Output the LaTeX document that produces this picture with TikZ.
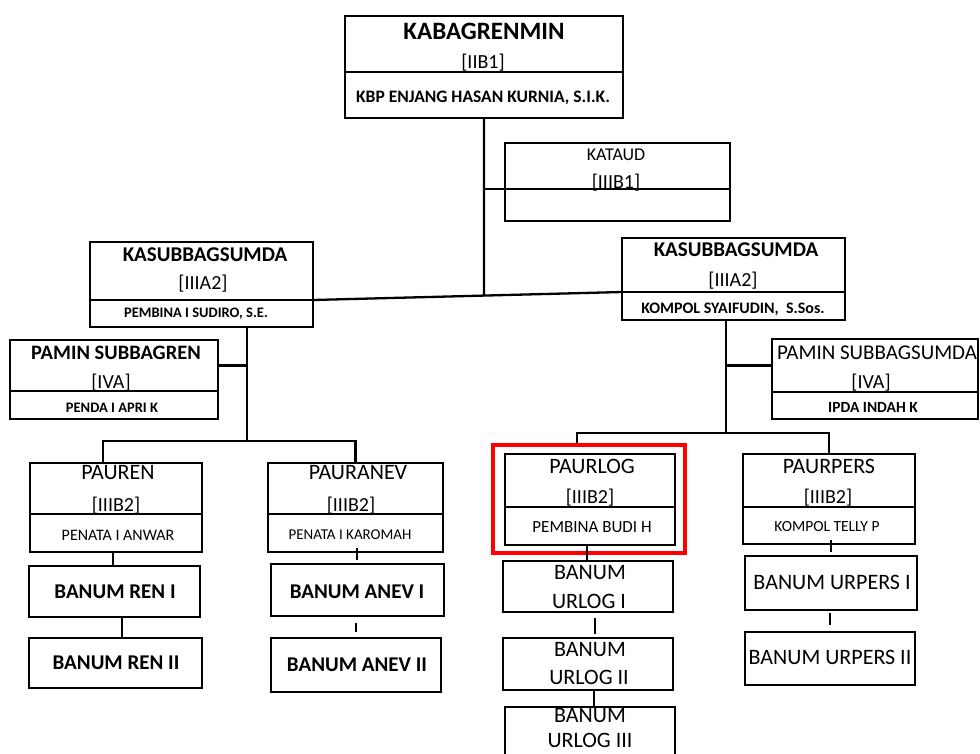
\documentclass[tikz,border=0pt]{standalone}
\usepackage{fontspec}
\setmainfont{Carlito}
\usetikzlibrary{calc}

\begin{document}
\begin{tikzpicture}[x=1pt,y=-1pt]
    \tikzstyle{part}=[rectangle,draw=black,line width=2.8pt,inner sep=0pt,outer sep=0pt]
    \tikzstyle{txt}=[inner sep=0pt,text depth=0pt]
    \tikzstyle{link}=[line width=2.3pt]
    \clip (0,0) rectangle (980,753);

    % boxes with a title part and a name part
    \foreach \nm/\lx/\ty/\rx/\dy/\by in {kabag/345/16/623/72/118, kataud/505/143/730/189/221,
            kasubL/90/242/313/300/327, kasubR/622/238/845/292/320,
            paminL/10/340/218/391/419, paminR/772/339/978/392/419,
            pauren/30/463/202/514/552, pauranev/268/463/443/514/552,
            paurlog/505/454/675/507/545, paurpers/743/454/915/507/544}{
        \node[part,minimum width=\rx-\lx,minimum height=\dy-\ty] (\nm) at ({(\lx+\rx)/2},{(\ty+\dy)/2}) {};
        \node[part,minimum width=\rx-\lx,minimum height=\by-\dy] (\nm-n) at ({(\lx+\rx)/2},{(\dy+\by)/2}) {};
    }

    % single boxes
    \foreach \nm/\lx/\ty/\rx/\by in {renI/29/566/200/617, renII/29/638/202/688,
            anevI/271/564/444/616, anevII/271/638/441/692,
            urlogI/503/561/673/612, urlogII/503/638/673/690, urlogIII/505/707/675/762,
            urpersI/745/556/917/610, urpersII/745/632/915/685}
        \node[part,minimum width=\rx-\lx,minimum height=\by-\ty] (\nm) at ({(\lx+\rx)/2},{(\ty+\by)/2}) {};

    \node[draw=red,line width=3.5pt,inner sep=0pt,minimum width=192,minimum height=108] (focus) at (589,499) {};

    % bold texts
    \foreach \nm/\x/\y/\sz/\txt in {kabag-t1/484/32/25/KABAGRENMIN,
            kabag-t3/483/97/17.5/{KBP ENJANG HASAN KURNIA, S.I.K.},
            kasubL-t1/205/255/21/KASUBBAGSUMDA, kasubL-t3/196/313/14.5/{PEMBINA I SUDIRO, S.E.},
            kasubR-t1/736/250/21/KASUBBAGSUMDA, kasubR-t3/733/308/16/{KOMPOL SYAIFUDIN,\ \ S.Sos.},
            paminL-t1/116/353/20.5/PAMIN SUBBAGREN, paminL-t3/112/408/14.5/PENDA I APRI K,
            paminR-t3/873/408/15.5/IPDA INDAH K,
            renI-t/115/592/21/BANUM REN I, renII-t/116/663/21/BANUM REN II,
            anevI-t/357/592/21/BANUM ANEV I, anevII-t/357/665/21/BANUM ANEV II}
        \node[txt,text height=0.63*\sz,font=\bfseries\fontsize{\sz}{\sz}\selectfont] (\nm) at (\x,\y) {\txt};

    % regular texts
    \foreach \nm/\x/\y/\sz/\txt in {kabag-t2/483/62/20/[IIB1],
            kataud-t1/616/155/18/KATAUD, kataud-t2/616/182/20/[IIIB1],
            kasubL-t2/203/283/20/[IIIA2], kasubR-t2/733/280/20/[IIIA2],
            paminL-t2/111/382/20/[IVA],
            paminR-t1/877/353/21/PAMIN SUBBAGSUMDA, paminR-t2/871/382/20/[IVA],
            pauren-t1/118/473/22/PAUREN, pauren-t2/116/505/20/[IIIB2], pauren-t3/118/535/16/PENATA I ANWAR,
            pauranev-t1/358/473/22/PAURANEV, pauranev-t2/351/505/20/[IIIB2], pauranev-t3/350/535/15/PENATA I KAROMAH,
            paurlog-t1/592/467/22/PAURLOG, paurlog-t2/590/497/20/[IIIB2], paurlog-t3/592/527/17/PEMBINA BUDI H,
            paurpers-t1/829/467/22/PAURPERS, paurpers-t2/828/497/20/[IIIB2], paurpers-t3/827/527/15.5/KOMPOL TELLY P,
            urlogI-t1/590/573/22/BANUM, urlogI-t2/589/602/22/URLOG I,
            urlogII-t1/590/650/22/BANUM, urlogII-t2/589/678/22/URLOG II,
            urlogIII-t1/590/716/22/BANUM, urlogIII-t2/590/741/22/URLOG III,
            urpersI-t/832/583/22/BANUM URPERS I, urpersII-t/830/658/22/BANUM URPERS II}
        \node[txt,text height=0.63*\sz,font=\fontsize{\sz}{\sz}\selectfont] (\nm) at (\x,\y) {\txt};

    % main lines
    \coordinate (jM) at (484,400);
    \draw[link] (kasubL.south east) -- (kasubR.south west);
    \draw[link] (kabag-n.south) -- (intersection of kabag-n.south--jM and kasubL.south east--kasubR.south west);
    \draw[link] (kataud.south west) -- (kataud.south west -| kabag-n.south);

    \coordinate (jL) at (247,441);
    \coordinate (jR) at (726,433);
    \draw[link] (jL |- kasubL-n.south) -- (jL);
    \draw[link] (paminL.east) -- (paminL.east -| jL);
    \draw[link] (pauren.north -| 103,0) |- (jL) -| (pauranev.north);
    \draw[link] (jR |- kasubR-n.south) -- (jR);
    \draw[link] (paminR.west -| jR) -- (paminR.west);
    \draw[link] (focus.north -| 577,0) |- (jR) -| (paurpers.north);

    % lower chains
    \draw[link] (pauren-n.south -| 113,0) -- (renI.north -| 113,0);
    \draw[link] (renI.south -| 122,0) -- (renII.north -| 122,0);
    \draw[link,shorten <=-4pt,shorten >=4pt] (pauranev-n.south -| 357,0) -- (anevI.north -| 357,0);
    \draw[link,shorten <=7pt,shorten >=6pt] (anevI.south -| 356,0) -- (anevII.north -| 356,0);
    \draw[link] (paurlog-n.south -| 587,0) -- (urlogI.north -| 587,0);
    \draw[link,shorten <=6pt,shorten >=4pt] (urlogI.south -| 595,0) -- (urlogII.north -| 595,0);
    \draw[link] (urlogII.south -| 594,0) -- (urlogIII.north -| 594,0);
    \draw[link,shorten <=-4pt,shorten >=4pt] (paurpers-n.south -| 831,0) -- (urpersI.north -| 831,0);
    \draw[link,shorten <=3pt,shorten >=7pt] (urpersI.south -| 830,0) -- (urpersII.north -| 830,0);
\end{tikzpicture}
\end{document}
